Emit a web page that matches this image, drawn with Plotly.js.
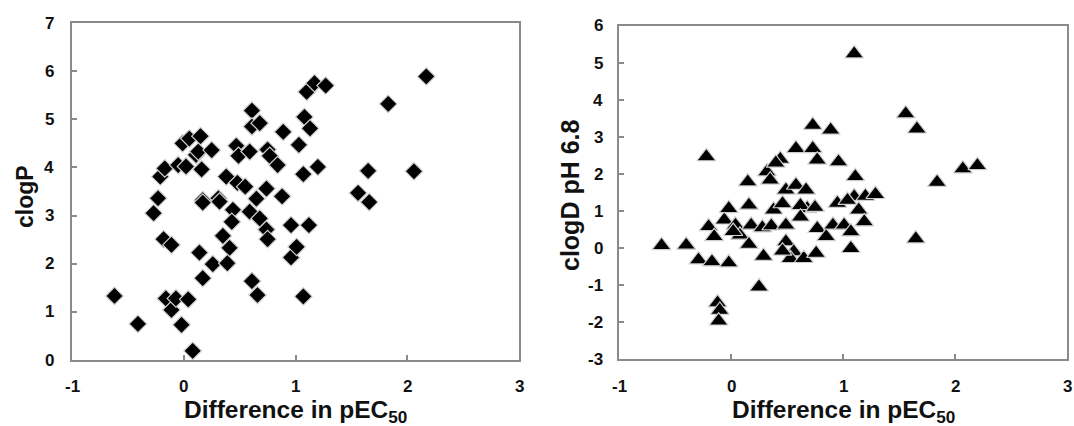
<!DOCTYPE html>
<html>
<head>
<meta charset="utf-8">
<script src="https://cdn.plot.ly/plotly-3.0.1.min.js"></script>
<style>html,body{margin:0;padding:0;background:#fff;}#chart{width:1074px;height:426px;}</style>
</head>
<body>
<div id="chart"></div>
<script>
// Left panel: Difference in pEC50 vs clogP
const diffP = [-0.62,-0.41,-0.27,-0.23,-0.21,-0.17,-0.18,-0.11,-0.16,-0.11,-0.07,0.04,-0.02,0.08,-0.05,0.02,-0.01,0.05,0.11,0.13,0.15,0.16,0.25,0.14,0.17,0.26,0.17,0.31,0.38,0.35,0.41,0.39,0.44,0.43,0.47,0.49,0.48,0.55,0.59,0.61,0.61,0.68,0.59,0.65,0.74,0.68,0.74,0.75,0.61,0.66,0.75,0.77,0.84,0.89,0.88,0.96,0.96,1.01,1.03,1.08,1.07,1.10,1.13,1.17,1.27,1.20,1.12,1.07,1.56,1.65,1.66,1.83,2.06,2.17,0.32,0.17];
const clogP = [1.33,0.75,3.05,3.36,3.81,3.98,2.51,2.39,1.28,1.04,1.28,1.26,0.73,0.19,4.05,4.02,4.50,4.60,4.26,4.33,4.65,3.96,4.36,2.23,1.70,1.99,3.32,3.36,3.81,2.58,2.33,2.01,3.12,2.87,4.45,4.24,3.68,3.60,4.33,5.18,4.85,4.92,3.08,3.35,3.56,2.94,2.71,2.51,1.64,1.35,4.37,4.24,4.05,4.74,3.40,2.80,2.13,2.35,4.47,5.05,3.86,5.57,4.81,5.75,5.70,4.01,2.80,1.32,3.47,3.93,3.28,5.32,3.92,5.89,3.29,3.27];

// Right panel: Difference in pEC50 vs clogD pH 6.8
const diffD = [-0.62,-0.40,-0.29,-0.17,-0.02,-0.22,-0.20,-0.15,-0.06,-0.02,0.04,0.08,0.02,-0.12,-0.10,-0.11,0.25,0.29,0.15,0.16,0.18,0.16,0.28,0.32,0.35,0.44,0.40,0.38,0.36,0.49,0.49,0.46,0.49,0.58,0.58,0.73,0.77,0.73,0.89,0.96,0.67,0.68,0.62,0.75,0.56,0.53,0.65,0.76,0.46,0.77,0.85,0.91,0.95,1.01,1.07,1.07,1.10,1.11,1.14,1.19,1.20,1.29,1.10,1.56,1.66,1.65,1.84,2.07,2.20,0.62,1.04];
const clogD = [0.07,0.08,-0.32,-0.37,-0.40,2.47,0.58,0.31,0.76,1.07,0.62,0.35,0.45,-1.48,-1.68,-1.97,-1.05,-0.22,1.79,1.16,0.62,0.10,0.55,2.06,1.84,2.40,2.30,1.03,0.60,0.62,0.17,1.20,1.57,1.70,2.69,2.69,2.38,3.32,3.19,2.33,1.57,1.07,1.15,1.10,-0.10,-0.28,-0.28,-0.14,-0.08,0.53,0.31,0.62,1.21,0.62,0.44,-0.01,1.39,1.93,1.03,0.71,1.40,1.45,5.25,3.63,3.22,0.25,1.78,2.14,2.23,0.84,1.29];

const xTickVals = [-1,0,1,2,3];
const xTickText = ['-1','0','1','2','3'];
const leftYTicks = [0,1,2,3,4,5,6,7];
const leftYText = ['0','1','2','3','4','5','6','7'];
const rightYTicks = [-3,-2,-1,0,1,2,3,4,5,6];
const rightYText = ['-3','-2','-1','0','1','2','3','4','5','6'];

const W = 1074, H = 426;
const FONT = 'Arial';
const titleFont = {family: FONT, size: 24.5, color: '#111', weight: 'bold'};
const tickFont = {family: FONT, size: 17, color: '#111', weight: 'bold'};

function makeAxis(domain, range, vals, anchor) {
  return {
    domain: domain, range: range, anchor: anchor,
    tickvals: vals, showticklabels: false,
    showgrid: false, zeroline: false,
    showline: true, mirror: true, linecolor: '#8a8a8a', linewidth: 2,
    ticks: 'inside', ticklen: 5, tickwidth: 1.5, tickcolor: '#8a8a8a'
  };
}

// Tick labels placed through the axes' own scales (xref/yref = data axes)
const annotations = [];
function xLabels(axisRef, vals, texts) {
  vals.forEach((v, i) => annotations.push({
    text: '<b>' + texts[i] + '</b>', xref: axisRef, yref: 'paper', x: v, y: 1 - 386/H,
    xanchor: 'center', yanchor: 'middle', showarrow: false, font: tickFont
  }));
}
function yLabels(axisRef, xPx, vals, texts) {
  vals.forEach((v, i) => annotations.push({
    text: '<b>' + texts[i] + '</b>', xref: 'paper', yref: axisRef, x: xPx / W, y: v,
    xanchor: 'right', yanchor: 'middle', showarrow: false, font: tickFont
  }));
}
xLabels('x', xTickVals, xTickText);
xLabels('x2', xTickVals, xTickText);
yLabels('y', 56, leftYTicks, leftYText);
yLabels('y2', 605, rightYTicks, rightYText);

annotations.push(
  {text: '<b>Difference in pEC<sub>50</sub></b>', xref: 'paper', yref: 'paper', x: 295.5/W, y: 1-411/H,
   xanchor: 'center', yanchor: 'middle', showarrow: false, font: titleFont},
  {text: '<b>Difference in pEC<sub>50</sub></b>', xref: 'paper', yref: 'paper', x: 843/W, y: 1-411/H,
   xanchor: 'center', yanchor: 'middle', showarrow: false, font: titleFont},
  {text: '<b>clogP</b>', xref: 'paper', yref: 'paper', x: 25/W, y: 1-197/H, textangle: -90,
   xanchor: 'center', yanchor: 'middle', showarrow: false, font: Object.assign({}, titleFont, {size: 23})},
  {text: '<b>clogD pH 6.8</b>', xref: 'paper', yref: 'paper', x: 570/W, y: 1-195/H, textangle: -90,
   xanchor: 'center', yanchor: 'middle', showarrow: false, font: Object.assign({}, titleFont, {size: 25})}
);

const traces = [
  {x: diffP, y: clogP, type: 'scatter', mode: 'markers', xaxis: 'x', yaxis: 'y',
   marker: {symbol: 'diamond', size: 13.5, color: '#000', line: {color: '#cfcfcf', width: 1.2}}},
  {x: diffD, y: clogD, type: 'scatter', mode: 'markers', xaxis: 'x2', yaxis: 'y2',
   marker: {symbol: 'triangle-up', size: 16.5, color: '#000', line: {color: '#cfcfcf', width: 1.2}}}
];

const layout = {
  width: W, height: H,
  margin: {l: 0, r: 0, t: 0, b: 0},
  paper_bgcolor: '#fff', plot_bgcolor: '#fff',
  showlegend: false,
  xaxis: makeAxis([72/W, 519/W], [-1, 3], xTickVals, 'y'),
  yaxis: makeAxis([1-360/H, 1-23/H], [0, 7], leftYTicks, 'x'),
  xaxis2: makeAxis([619/W, 1067/W], [-1, 3], xTickVals, 'y2'),
  yaxis2: makeAxis([1-359/H, 1-26/H], [-3, 6], rightYTicks, 'x2'),
  annotations: annotations
};

Plotly.newPlot('chart', traces, layout, {displayModeBar: false});
</script>
</body>
</html>
